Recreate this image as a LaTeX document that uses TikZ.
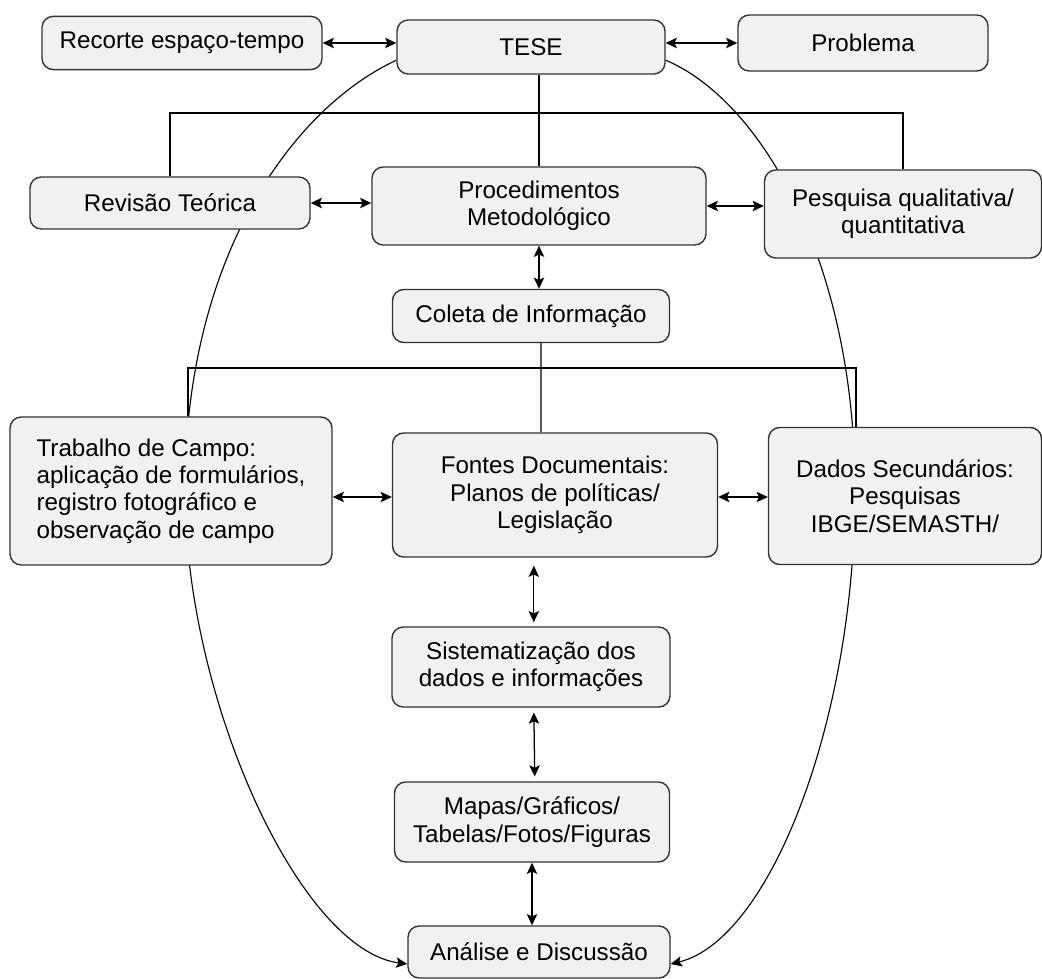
\documentclass[tikz,border=0pt]{standalone}
\usepackage{fontspec}
\setmainfont{Liberation Sans}
\usetikzlibrary{arrows.meta,backgrounds}
\definecolor{boxfill}{HTML}{F1F1F1}
\definecolor{boxline}{HTML}{333333}
\tikzset{
	box/.style={draw=boxline, fill=boxfill, line width=1pt, rounded corners=0.28cm, align=center, inner sep=2pt, font=\fontsize{17.2}{19.5}\selectfont},
	link/.style={line width=0.8pt},
	twoway/.style={{Stealth[length=2.8mm,width=2.6mm,inset=0.6mm]}-{Stealth[length=2.8mm,width=2.6mm,inset=0.6mm]}, line width=0.9pt}
}
\begin{document}
\begin{tikzpicture}
			\useasboundingbox (0,0) rectangle (26.05,24.45);
			% top row
			\node[box, minimum width=7cm, minimum height=1.33cm] (recorte) at (4.55,23.375) {Recorte espaço-tempo};
			\node[box, minimum width=6.7cm, minimum height=1.35cm] (tese) at (13.275,23.275) {TESE};
			\node[box, minimum width=6.25cm, minimum height=1.4cm] (problema) at (21.575,23.375) {Problema};
			% second row
			\node[box, minimum width=7cm, minimum height=1.3cm] (revisao) at (4.25,19.375) {Revisão Teórica};
			\node[box, minimum width=8.35cm, minimum height=1.95cm] (proc) at (13.475,19.3) {Procedimentos\\Metodológico};
			\node[box, minimum width=6.925cm, minimum height=2.2cm] (pesquisa) at (22.575,19.1) {Pesquisa qualitativa/\\quantitativa};
			\node[box, minimum width=6.925cm, minimum height=1.325cm] (coleta) at (13.275,16.55) {Coleta de Informação};
			% third row
			\node[box, align=left, minimum width=8.05cm, minimum height=3.7cm] (trabalho) at (4.275,12.175) {Trabalho de Campo:\\aplicação de formulários,\\registro fotográfico e\\observação de campo};
			\node[box, minimum width=8.125cm, minimum height=3.1cm] (fontes) at (13.875,12.075) {Fontes Documentais:\\Planos de políticas/\\Legislação};
			\node[box, minimum width=6.825cm, minimum height=3.425cm] (dados) at (22.625,12.05) {Dados Secundários:\\Pesquisas\\IBGE/SEMASTH/};
			% column below
			\node[box, minimum width=6.95cm, minimum height=2cm] (sist) at (13.275,7.775) {Sistematização dos\\dados e informações};
			\node[box, minimum width=6.875cm, minimum height=2cm] (mapas) at (13.3,3.9) {Mapas/Gráficos/\\Tabelas/Fotos/Figuras};
			\node[box, minimum width=6.55cm, minimum height=1.3cm] (analise) at (13.475,0.65) {Análise e Discussão};
			\coordinate (bus1) at (13,21.625);
			\coordinate (bus2l) at (4.7,15.25);
			\coordinate (bus2r) at (21.4,15.25);
			\begin{pgfonlayer}{background}
				\draw[link] (revisao.north) |- (bus1) -| (pesquisa.north);
				\draw[link] (proc.north) -- (proc.north |- tese.south);
				\draw[link] (trabalho.north -| bus2l) -- (bus2l) -- (bus2r) -- (dados.north -| bus2r);
				\draw[link] ([xshift=0.25cm]coleta.south) -- ([xshift=-0.35cm]fontes.north);
				\draw[link, -{Stealth[length=2.8mm,width=2.6mm,inset=0.6mm]}] ([yshift=-0.33cm]tese.west) .. controls (7.25,21.7) and (4.625,17.95) .. (4.625,12.2) .. controls (4.625,6.95) and (7.5,0.7) .. ([yshift=-0.3cm]analise.west);
				\draw[link, -{Stealth[length=2.8mm,width=2.6mm,inset=0.6mm]}] ([yshift=-0.33cm]tese.east) .. controls (19,21.95) and (21.375,17.95) .. (21.375,12.2) .. controls (21.375,6.45) and (19.25,0.95) .. ([yshift=-0.3cm]analise.east);
			\end{pgfonlayer}
			\draw[twoway] (recorte.east) -- (recorte.east -| tese.west);
			\draw[twoway] (problema.west -| tese.east) -- (problema.west);
			\draw[twoway] (revisao.east) -- (revisao.east -| proc.west);
			\draw[twoway] (proc.east) -- (proc.east -| pesquisa.west);
			\draw[twoway] (proc.south) -- (proc.south |- coleta.north);
			\draw[twoway] ([yshift=-0.15cm]trabalho.east) -- ([yshift=-0.15cm]trabalho.east -| fontes.west);
			\draw[twoway] ([yshift=-0.05cm]fontes.east) -- ([yshift=-0.05cm]fontes.east -| dados.west);
			\draw[twoway, shorten <=0.2cm, shorten >=0.1cm] ([xshift=0.07cm]fontes.south -| sist.north) -- ([xshift=0.07cm]sist.north);
			\draw[twoway, shorten <=0.12cm, shorten >=0.12cm] ([xshift=0.07cm]sist.south) -- ([xshift=0.07cm]mapas.north);
			\draw[twoway] (mapas.south) -- (mapas.south |- analise.north);
		\end{tikzpicture}
\end{document}
